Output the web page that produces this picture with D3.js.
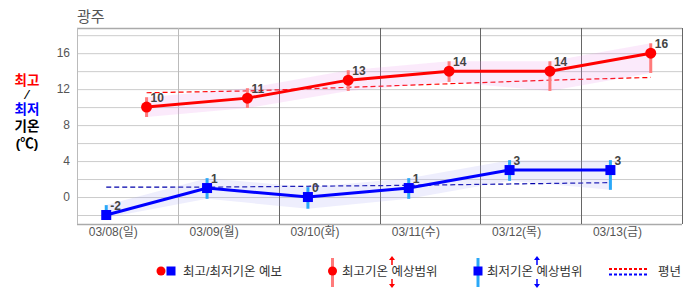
<!DOCTYPE html>
<html>
<head>
<meta charset="utf-8">
<script src="https://cdn.jsdelivr.net/npm/d3@7"></script>
<style>
  body { margin: 0; background: #fff; }
  text { font-family: "Liberation Sans", "Noto Sans CJK KR", sans-serif; }
</style>
</head>
<body>
<div id="chart"></div>
<script>
// data
const days = ["03/08(일)", "03/09(월)", "03/10(화)", "03/11(수)", "03/12(목)", "03/13(금)"];
const maxTemp = [10, 11, 13, 14, 14, 16];
const minTemp = [-2, 1, 0, 1, 3, 3];
const maxHigh = [11.1, 12.1, 14.1, 15.1, 15.1, 17.1];
const maxLow = [8.9, 9.9, 11.8, 12.8, 11.8, 13.8];
const minHigh = [-0.9, 2.1, 1.1, 2.1, 4.1, 4.1];
const minLow = [-2.3, -0.2, -1.3, -0.2, 1.8, 0.8];
const normalMax = [11.6, 11.8, 12.2, 12.6, 13.0, 13.3];
const normalMin = [1.1, 1.1, 1.2, 1.3, 1.45, 1.6];
const yTicks = [0, 4, 8, 12, 16];
const yGrid = [-2, 0, 2, 4, 6, 8, 10, 12, 14, 16, 18];

const width = 686, height = 295;
const margin = {top: 28, right: 4, bottom: 71, left: 77};

const svg = d3.select("#chart").append("svg")
    .attr("width", width)
    .attr("height", height);

const x = d3.scaleLinear().domain([0, 6]).range([margin.left, width - margin.right]);
const y = d3.scaleLinear().domain([-3, 18.8]).range([height - margin.bottom, margin.top]);

const minOff = 0.29, maxOff = 0.69, labelOff = 0.36;

// title
svg.append("text")
    .attr("x", 77).attr("y", 22)
    .attr("font-size", 15)
    .attr("fill", "#555")
    .text("광주");

// horizontal grid
svg.append("g").selectAll("line")
    .data(yGrid)
    .enter().append("line")
    .attr("x1", x(0)).attr("x2", x(6))
    .attr("y1", d => y(d) + 0.5).attr("y2", d => y(d) + 0.5)
    .attr("stroke", "#ccc");

// frame top/bottom
[margin.top, height - margin.bottom].forEach(v => {
    svg.append("line")
        .attr("x1", x(0)).attr("x2", x(6))
        .attr("y1", v + 0.5).attr("y2", v + 0.5)
        .attr("stroke", "#aaa").attr("stroke-width", 1.5);
});

// vertical day separators
svg.append("g").selectAll("line")
    .data(d3.range(0, 7))
    .enter().append("line")
    .attr("x1", d => Math.round(x(d)) + 0.5).attr("x2", d => Math.round(x(d)) + 0.5)
    .attr("y1", margin.top).attr("y2", height - margin.bottom)
    .attr("stroke", d => d <= 1 ? "#bbb" : "#666");

// y axis labels
svg.append("g").selectAll("text")
    .data(yTicks)
    .enter().append("text")
    .attr("x", 70).attr("y", d => y(d))
    .attr("dy", "0.35em")
    .attr("text-anchor", "end")
    .attr("font-size", 12)
    .attr("fill", "#555")
    .text(d => d);

// x axis labels
svg.append("g").selectAll("text")
    .data(days)
    .enter().append("text")
    .attr("x", (d, i) => x(i + labelOff))
    .attr("y", 236)
    .attr("text-anchor", "middle")
    .attr("font-size", 12)
    .attr("fill", "#555")
    .text(d => d);

// left unit label
const leftLbl = [
    {t: "최고", c: "#f00", y: 85},
    {t: "⁄", c: "#000", y: 99},
    {t: "최저", c: "#00f", y: 114},
    {t: "기온", c: "#000", y: 131},
    {t: "(℃)", c: "#000", y: 148}
];
svg.append("g").selectAll("text")
    .data(leftLbl)
    .enter().append("text")
    .attr("x", 27).attr("y", d => d.y)
    .attr("text-anchor", "middle")
    .attr("font-size", d => d.t === "⁄" ? 12 : 13.5)
    .attr("font-weight", "bold")
    .attr("fill", d => d.c)
    .text(d => d.t);

// normals (dashed)
const normLine = off => d3.line()
    .x((d, i) => x(i + off))
    .y(d => y(d));

svg.append("path")
    .datum(normalMax)
    .attr("d", normLine(maxOff))
    .attr("fill", "none")
    .attr("stroke", "#f00")
    .attr("stroke-width", 1.2)
    .attr("stroke-dasharray", "5,3");

svg.append("path")
    .datum(normalMin)
    .attr("d", normLine(minOff))
    .attr("fill", "none")
    .attr("stroke", "#00a")
    .attr("stroke-width", 1.2)
    .attr("stroke-dasharray", "5,3");

// range bands
const band = (hi, lo, off) => d3.area()
    .x((d, i) => x(i + off))
    .y0((d, i) => y(lo[i]))
    .y1((d, i) => y(hi[i]))(hi);

svg.append("path")
    .attr("d", band(maxHigh, maxLow, maxOff))
    .attr("fill", "rgb(235,140,235)")
    .attr("fill-opacity", 0.18);

svg.append("path")
    .attr("d", band(minHigh, minLow, minOff))
    .attr("fill", "rgb(170,170,245)")
    .attr("fill-opacity", 0.2);

// range bars
svg.append("g").selectAll("line")
    .data(maxTemp)
    .enter().append("line")
    .attr("x1", (d, i) => x(i + maxOff)).attr("x2", (d, i) => x(i + maxOff))
    .attr("y1", (d, i) => y(maxHigh[i])).attr("y2", (d, i) => y(maxLow[i]))
    .attr("stroke", "#ff7b7b").attr("stroke-width", 3);

svg.append("g").selectAll("line")
    .data(minTemp)
    .enter().append("line")
    .attr("x1", (d, i) => x(i + minOff)).attr("x2", (d, i) => x(i + minOff))
    .attr("y1", (d, i) => y(minHigh[i])).attr("y2", (d, i) => y(minLow[i]))
    .attr("stroke", "#2aa8f8").attr("stroke-width", 3);

// forecast lines
svg.append("path")
    .datum(maxTemp)
    .attr("d", normLine(maxOff))
    .attr("fill", "none")
    .attr("stroke", "#f00")
    .attr("stroke-width", 3);

svg.append("path")
    .datum(minTemp)
    .attr("d", normLine(minOff))
    .attr("fill", "none")
    .attr("stroke", "#00f")
    .attr("stroke-width", 3);

// markers
svg.append("g").selectAll("circle")
    .data(maxTemp)
    .enter().append("circle")
    .attr("cx", (d, i) => x(i + maxOff))
    .attr("cy", d => y(d))
    .attr("r", 5.5)
    .attr("fill", "#f00");

svg.append("g").selectAll("rect")
    .data(minTemp)
    .enter().append("rect")
    .attr("x", (d, i) => x(i + minOff) - 5)
    .attr("y", d => y(d) - 5)
    .attr("width", 10).attr("height", 10)
    .attr("fill", "#00f");

// value labels
const valLabels = (data, off) => svg.append("g").selectAll("text")
    .data(data)
    .enter().append("text")
    .attr("x", (d, i) => x(i + off) + 4)
    .attr("y", d => y(d) - 5)
    .attr("font-size", 12)
    .attr("font-weight", "bold")
    .attr("fill", "#444")
    .text(d => d);
valLabels(maxTemp, maxOff);
valLabels(minTemp, minOff);

// legend
const lg = svg.append("g").attr("font-size", 12.5).attr("fill", "#333");
const ly = 272;

lg.append("circle").attr("cx", 161).attr("cy", ly - 1).attr("r", 4.5).attr("fill", "#f00");
lg.append("rect").attr("x", 166.5).attr("y", ly - 5.5).attr("width", 9).attr("height", 9).attr("fill", "#00f");
lg.append("text").attr("x", 183).attr("y", ly).attr("dy", "0.35em").text("최고/최저기온 예보");

lg.append("line").attr("x1", 332.5).attr("x2", 332.5).attr("y1", 258).attr("y2", 287)
    .attr("stroke", "#ff7b7b").attr("stroke-width", 3);
lg.append("circle").attr("cx", 332.5).attr("cy", ly - 1).attr("r", 4.5).attr("fill", "#f00");
lg.append("text").attr("x", 342).attr("y", ly).attr("dy", "0.35em").text("최고기온 예상범위");

lg.append("line").attr("x1", 478).attr("x2", 478).attr("y1", 258).attr("y2", 287)
    .attr("stroke", "#2aa8f8").attr("stroke-width", 3);
lg.append("rect").attr("x", 473.5).attr("y", ly - 5.5).attr("width", 9).attr("height", 9).attr("fill", "#00f");
lg.append("text").attr("x", 487).attr("y", ly).attr("dy", "0.35em").text("최저기온 예상범위");

// double arrows
const arrow = (cx, col) => {
    lg.append("line").attr("x1", cx).attr("x2", cx).attr("y1", 259).attr("y2", 265)
        .attr("stroke", col).attr("stroke-width", 1.5);
    lg.append("path").attr("d", `M${cx - 3},${260} L${cx},${256} L${cx + 3},${260} Z`).attr("fill", col);
    lg.append("line").attr("x1", cx).attr("x2", cx).attr("y1", 279).attr("y2", 285)
        .attr("stroke", col).attr("stroke-width", 1.5);
    lg.append("path").attr("d", `M${cx - 3},${284} L${cx},${288} L${cx + 3},${284} Z`).attr("fill", col);
};
arrow(392, "#f00");
arrow(537, "#00f");

lg.append("line").attr("x1", 609).attr("x2", 648).attr("y1", 269).attr("y2", 269)
    .attr("stroke", "#f00").attr("stroke-width", 2).attr("stroke-dasharray", "3,2");
lg.append("line").attr("x1", 609).attr("x2", 648).attr("y1", 274.5).attr("y2", 274.5)
    .attr("stroke", "#00f").attr("stroke-width", 2).attr("stroke-dasharray", "3,2");
lg.append("text").attr("x", 658).attr("y", ly).attr("dy", "0.35em").text("평년");
</script>
</body>
</html>
